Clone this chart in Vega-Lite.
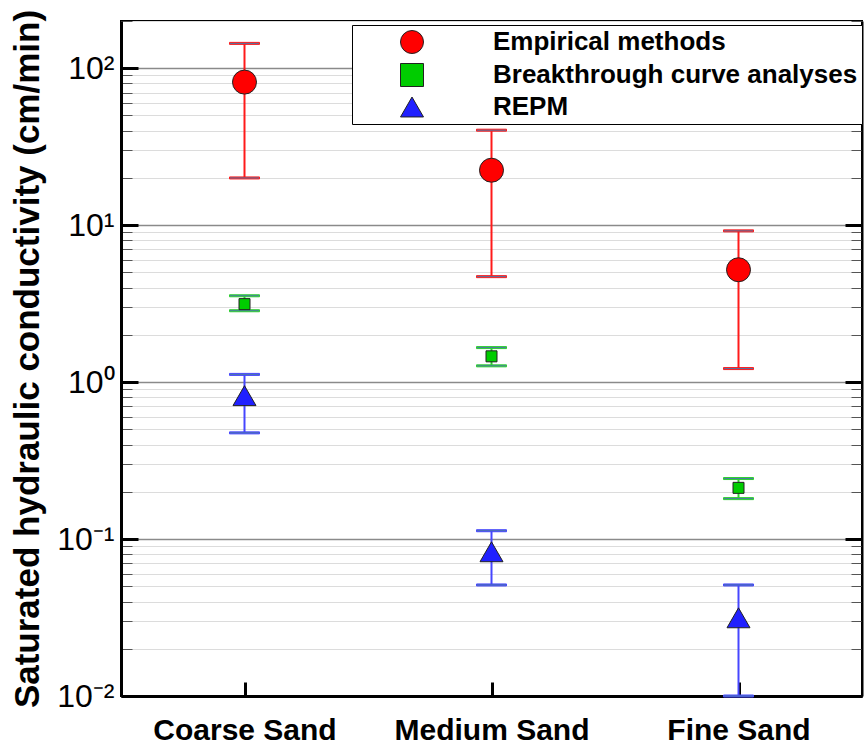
{
  "$schema": "https://vega.github.io/schema/vega-lite/v6.json",
  "width": 741,
  "height": 675,
  "autosize": {"type": "none"},
  "padding": {"left": 121, "top": 21, "right": 3, "bottom": 48},
  "background": "white",
  "config": {
    "view": {"stroke": "black", "strokeWidth": 2},
    "font": "Liberation Sans",
    "axisX": {
      "title": null,
      "labelAngle": 0,
      "labelFont": "Liberation Sans",
      "labelFontSize": 30,
      "labelFontWeight": "bold",
      "labelColor": "black",
      "labelLimit": 400,
      "labelPadding": 33,
      "tickSize": -14,
      "tickWidth": 3,
      "tickColor": "black",
      "domainColor": "black",
      "domainWidth": 3,
      "grid": false
    }
  },
  "data": {
    "values": [
      {"series": "Empirical methods", "sand": "Coarse Sand", "value": 81.6, "low": 20.0, "high": 144},
      {"series": "Empirical methods", "sand": "Medium Sand", "value": 22.4, "low": 4.7, "high": 40.3},
      {"series": "Empirical methods", "sand": "Fine Sand", "value": 5.2, "low": 1.22, "high": 9.2},
      {"series": "Breakthrough curve analyses", "sand": "Coarse Sand", "value": 3.14, "low": 2.85, "high": 3.55},
      {"series": "Breakthrough curve analyses", "sand": "Medium Sand", "value": 1.46, "low": 1.27, "high": 1.66},
      {"series": "Breakthrough curve analyses", "sand": "Fine Sand", "value": 0.212, "low": 0.181, "high": 0.243},
      {"series": "REPM", "sand": "Coarse Sand", "value": 0.82, "low": 0.475, "high": 1.12},
      {"series": "REPM", "sand": "Medium Sand", "value": 0.083, "low": 0.051, "high": 0.113},
      {"series": "REPM", "sand": "Fine Sand", "value": 0.0315, "low": 0.01, "high": 0.051}
    ]
  },
  "resolve": {"axis": {"y": "independent"}},
  "layer": [
    {
      "mark": {"type": "rule", "strokeWidth": 2},
      "encoding": {
        "x": {"field": "sand", "type": "nominal", "sort": ["Coarse Sand", "Medium Sand", "Fine Sand"], "scale": {"type": "point", "padding": 0.5}},
        "y": {
          "field": "low", "type": "quantitative",
          "scale": {"type": "log", "domain": [0.01, 200], "nice": false},
          "axis": {
            "orient": "left",
            "title": "Saturated hydraulic conductivity (cm/min)",
            "titleFont": "Liberation Sans",
            "titleFontSize": 35,
            "titleFontWeight": "bold",
            "titleColor": "black",
            "titlePadding": 11,
            "values": [0.01,0.02,0.03,0.04,0.05,0.06,0.07,0.08,0.09,0.1,0.2,0.3,0.4,0.5,0.6,0.7,0.8,0.9,1,2,3,4,5,6,7,8,9,10,20,30,40,50,60,70,80,90,100,200],
            "labelExpr": "datum.value === 100 ? '10²' : datum.value === 10 ? '10¹' : datum.value === 1 ? '10⁰' : datum.value === 0.1 ? '10⁻¹' : datum.value === 0.01 ? '10⁻²' : ''",
            "labelFont": "Liberation Sans",
            "labelFontSize": 32,
            "labelColor": "black",
            "labelPadding": 24,
            "labelOverlap": false,
            "labelBound": false,
            "labelFlush": false,
            "domainColor": "black",
            "domainWidth": 3,
            "tickSize": {"condition": {"test": "datum.value === 100 || datum.value === 10 || datum.value === 1 || datum.value === 0.1 || datum.value === 0.01", "value": -17}, "value": -11},
            "tickColor": {"condition": {"test": "datum.value === 100 || datum.value === 10 || datum.value === 1 || datum.value === 0.1 || datum.value === 0.01", "value": "black"}, "value": "#555555"},
            "tickWidth": {"condition": {"test": "datum.value === 100 || datum.value === 10 || datum.value === 1 || datum.value === 0.1 || datum.value === 0.01", "value": 3}, "value": 1},
            "grid": true,
            "gridColor": {"condition": {"test": "datum.value === 100 || datum.value === 10 || datum.value === 1 || datum.value === 0.1 || datum.value === 0.01", "value": "#8a8a8a"}, "value": "#dcdcdc"},
            "gridWidth": {"condition": {"test": "datum.value === 100 || datum.value === 10 || datum.value === 1 || datum.value === 0.1 || datum.value === 0.01", "value": 1.5}, "value": 1}
          }
        },
        "y2": {"field": "high"},
        "stroke": {
          "condition": [
            {"test": "datum.series === 'Empirical methods'", "value": "#ff1a1a"},
            {"test": "datum.series === 'Breakthrough curve analyses'", "value": "#2ed02e"}
          ],
          "value": "#4646ff"
        }
      }
    },
    {
      "transform": [{"fold": ["low", "high"], "as": ["bound", "bv"]}],
      "mark": {"type": "tick", "thickness": 2, "size": 30, "opacity": 1},
      "encoding": {
        "x": {"field": "sand", "type": "nominal", "sort": ["Coarse Sand", "Medium Sand", "Fine Sand"], "scale": {"type": "point", "padding": 0.5}},
        "y": {
          "field": "bv", "type": "quantitative",
          "scale": {"type": "log", "domain": [0.01, 200], "nice": false},
          "axis": {
            "orient": "right",
            "title": null,
            "labels": false,
            "grid": false,
            "values": [0.01,0.02,0.03,0.04,0.05,0.06,0.07,0.08,0.09,0.1,0.2,0.3,0.4,0.5,0.6,0.7,0.8,0.9,1,2,3,4,5,6,7,8,9,10,20,30,40,50,60,70,80,90,100,200],
            "domainColor": "black",
            "domainWidth": 2,
            "tickSize": {"condition": {"test": "datum.value === 100 || datum.value === 10 || datum.value === 1 || datum.value === 0.1 || datum.value === 0.01", "value": -17}, "value": -11},
            "tickColor": {"condition": {"test": "datum.value === 100 || datum.value === 10 || datum.value === 1 || datum.value === 0.1 || datum.value === 0.01", "value": "black"}, "value": "#555555"},
            "tickWidth": {"condition": {"test": "datum.value === 100 || datum.value === 10 || datum.value === 1 || datum.value === 0.1 || datum.value === 0.01", "value": 3}, "value": 1}
          }
        },
        "stroke": {
          "condition": [
            {"test": "datum.series === 'Empirical methods'", "value": "#ff1a1a"},
            {"test": "datum.series === 'Breakthrough curve analyses'", "value": "#2ed02e"}
          ],
          "value": "#4646ff"
        }
      }
    },
    {
      "mark": {"type": "point", "filled": true, "opacity": 1, "stroke": "#222222", "strokeWidth": 1},
      "encoding": {
        "x": {"field": "sand", "type": "nominal", "sort": ["Coarse Sand", "Medium Sand", "Fine Sand"], "scale": {"type": "point", "padding": 0.5}},
        "y": {"field": "value", "type": "quantitative", "scale": {"type": "log", "domain": [0.01, 200], "nice": false}, "axis": null},
        "color": {
          "field": "series", "type": "nominal",
          "scale": {"domain": ["Empirical methods", "Breakthrough curve analyses", "REPM"], "range": ["#ff0000", "#00cc00", "#2020ff"]},
          "legend": {
            "title": null,
            "orient": "none",
            "legendX": 231,
            "legendY": 4,
            "padding": 4,
            "strokeColor": "black",
            "fillColor": "white",
            "labelFont": "Liberation Sans",
            "labelFontSize": 26,
            "labelFontWeight": "bold",
            "labelColor": "black",
            "labelLimit": 500,
            "symbolSize": 529,
            "symbolOffset": 43,
            "labelOffset": 68,
            "rowPadding": 5,
            "symbolStrokeColor": "#222222",
            "symbolStrokeWidth": 1,
            "symbolOpacity": 1
          }
        },
        "shape": {
          "field": "series", "type": "nominal",
          "scale": {"domain": ["Empirical methods", "Breakthrough curve analyses", "REPM"], "range": ["circle", "square", "triangle-up"]},
          "legend": {"title": null}
        },
        "size": {
          "field": "series", "type": "nominal",
          "scale": {"type": "ordinal", "domain": ["REPM", "Empirical methods", "Breakthrough curve analyses"], "range": [529, 576, 121]},
          "legend": null
        }
      }
    }
  ]
}
